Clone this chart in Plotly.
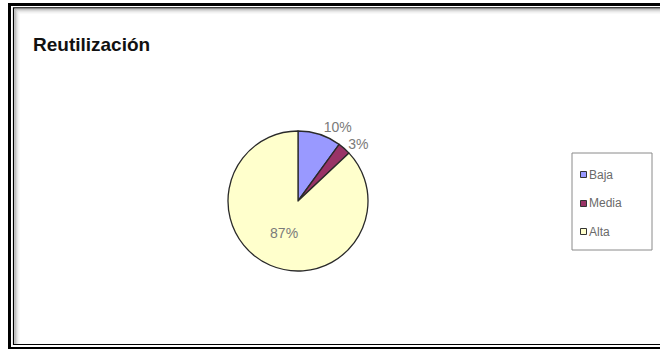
import plotly.graph_objects as go

# Reuse levels and their share of the total
categories = ["Baja", "Media", "Alta"]
shares = [10, 3, 87]
slice_colors = ["#9999FF", "#993366", "#FFFFCC"]
label_positions = ["outside", "outside", "inside"]

W, H = 660, 349


def px_x(x):
    return x / W


def px_y(y):
    return 1 - y / H


# pie placement (pixels)
cx, cy, r = 298, 201, 70

fig = go.Figure()
fig.add_trace(go.Pie(
    labels=categories,
    values=shares,
    sort=False,
    direction="clockwise",
    rotation=0,
    marker=dict(colors=slice_colors, line=dict(color="#2a2a2a", width=1.3)),
    textinfo="percent",
    texttemplate="%{percent:.0%}",
    textposition=label_positions,
    insidetextorientation="horizontal",
    textfont=dict(family="Liberation Sans, Arial", size=14, color="#7a7a7a"),
    outsidetextfont=dict(family="Liberation Sans, Arial", size=14, color="#7a7a7a"),
    showlegend=False,
    hoverinfo="label+percent",
    domain=dict(x=[px_x(cx - r), px_x(cx + r)], y=[px_y(cy + r), px_y(cy - r)]),
))

shapes = []
# double frame: thick outer line, thin inner line
shapes.append(dict(type="rect", xref="paper", yref="paper",
                   x0=px_x(9.5), x1=px_x(680), y0=px_y(348.5), y1=px_y(4.5),
                   line=dict(color="black", width=3)))
shapes.append(dict(type="rect", xref="paper", yref="paper",
                   x0=px_x(13.5), x1=px_x(675), y0=px_y(344.5), y1=px_y(7.8),
                   line=dict(color="black", width=1.2)))
# soft inner shadow along the left and top edges
shade = ["#9a9a9a", "#b8b8b8", "#d2d2d2", "#e6e6e6", "#f3f3f3"]
for i, c in enumerate(shade):
    xo = 15 + i
    yo = 9 + i
    shapes.append(dict(type="line", xref="paper", yref="paper",
                       x0=px_x(xo), x1=px_x(xo), y0=px_y(344), y1=px_y(yo),
                       line=dict(color=c, width=1)))
    shapes.append(dict(type="line", xref="paper", yref="paper",
                       x0=px_x(xo), x1=px_x(675), y0=px_y(yo), y1=px_y(yo),
                       line=dict(color=c, width=1)))

# legend box
shapes.append(dict(type="rect", xref="paper", yref="paper",
                   x0=px_x(572), x1=px_x(652), y0=px_y(250), y1=px_y(153),
                   line=dict(color="#8a8a8a", width=1)))

annotations = [dict(text="<b>Reutilización</b>", xref="paper", yref="paper",
                    x=px_x(31), y=px_y(45), xanchor="left", yanchor="middle",
                    showarrow=False,
                    font=dict(family="Liberation Sans, Arial", size=19, color="#111111"))]

legend_rows = [174.5, 203.5, 231.5]
for name, col, yy in zip(categories, slice_colors, legend_rows):
    shapes.append(dict(type="rect", xref="paper", yref="paper",
                       x0=px_x(580.5), x1=px_x(586.5), y0=px_y(yy + 3), y1=px_y(yy - 3),
                       fillcolor=col, line=dict(color="#333333", width=1)))
    annotations.append(dict(text=name, xref="paper", yref="paper",
                            x=px_x(587), y=px_y(yy), xanchor="left", yanchor="middle",
                            showarrow=False,
                            font=dict(family="Liberation Sans, Arial", size=12, color="#6a6a6a")))

fig.update_layout(
    width=W, height=H,
    margin=dict(l=0, r=0, t=0, b=0),
    paper_bgcolor="white",
    plot_bgcolor="white",
    shapes=shapes,
    annotations=annotations,
)

fig.write_html("out.html")
